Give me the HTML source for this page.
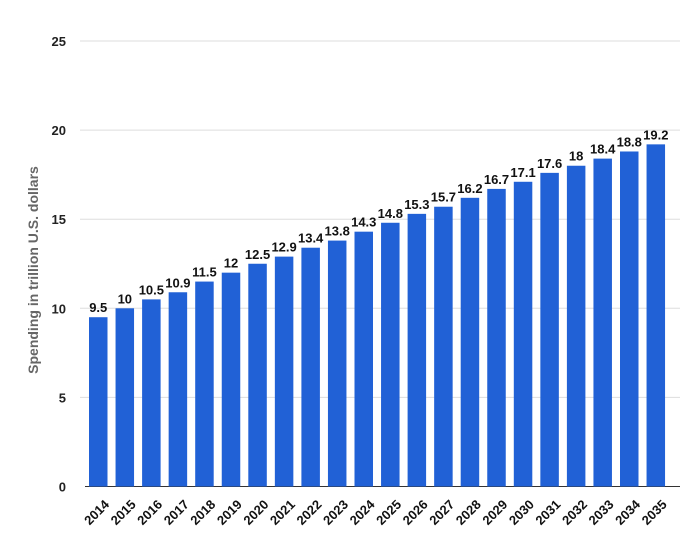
<!DOCTYPE html>
<html><head><meta charset="utf-8"><style>
body{margin:0;background:#fff;font-family:"Liberation Sans",Arial,sans-serif}
</style></head><body>
<svg width="684" height="541">
<g id="grid"></g>
<g id="bars"></g>
<text transform="translate(38,270) rotate(-90)" text-anchor="middle" font-size="14" font-weight="bold" fill="#666">Spending in trillion U.S. dollars</text>
</svg>
<script>
const categories=["2014","2015","2016","2017","2018","2019","2020","2021","2022","2023","2024","2025","2026","2027","2028","2029","2030","2031","2032","2033","2034","2035"];
const values=[9.5,10,10.5,10.9,11.5,12,12.5,12.9,13.4,13.8,14.3,14.8,15.3,15.7,16.2,16.7,17.1,17.6,18,18.4,18.8,19.2];
const yTicks=[0,5,10,15,20,25];
const NS="http://www.w3.org/2000/svg";
const y0=486.5,yTop=41;
const y=v=>y0-(y0-yTop)*v/25;
const x=i=>89+i*26.55;
const bw=18.5;
const grid=document.getElementById('grid'),bars=document.getElementById('bars');
function mk(tag,attrs,parent){const e=document.createElementNS(NS,tag);for(const k in attrs)e.setAttribute(k,attrs[k]);parent.appendChild(e);return e;}
yTicks.forEach(t=>{
 const l=mk('line',{x1:t===0?85:80,x2:680,y1:y(t),y2:y(t),stroke:t===0?'#333':'#ddd','stroke-width':1},grid);
 
 
 const tx=mk('text',{x:66,y:y(t)+5,'text-anchor':'end','font-size':13,'font-weight':'bold',fill:'#222'},grid);
 tx.textContent=t;
 
 
});
values.forEach((v,i)=>{
 const r=mk('rect',{x:x(i),y:y(v),width:bw,height:y0-y(v),fill:'#2161d6'},bars);
 
 
 const lb=mk('text',{x:x(i)+bw/2,y:y(v)-5,'text-anchor':'middle','font-size':13,'font-weight':'bold',fill:'#111'},bars);
 lb.textContent=v;
 
 
 const cx=x(i)+bw/2+5,cy=y0+12;
 const xl=mk('text',{x:cx,y:cy,'text-anchor':'end','font-size':13,'font-weight':'bold',fill:'#111',transform:`rotate(-45 ${cx} ${cy})`,'dominant-baseline':'hanging'},bars);
 xl.textContent=categories[i];
 
 
});
</script>
</body></html>
